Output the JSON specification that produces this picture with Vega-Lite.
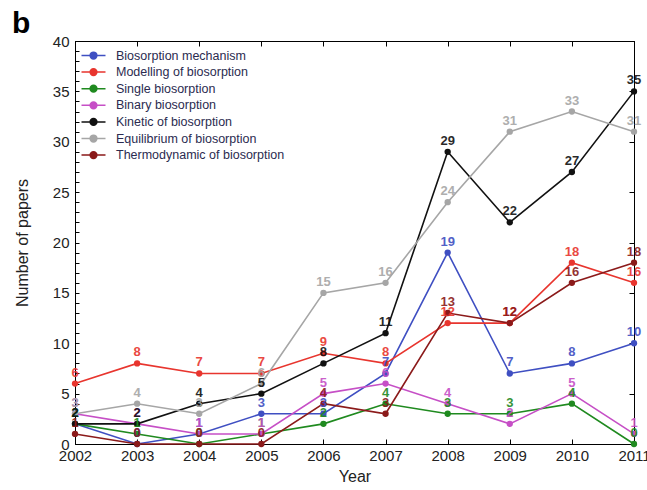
{
  "$schema": "https://vega.github.io/schema/vega-lite/v6.json",
  "width": 559,
  "height": 403,
  "autosize": {"type": "none"},
  "padding": {"left": 75, "top": 41, "right": 13, "bottom": 46},
  "background": "white",
  "config": {
    "font": "Liberation Sans",
    "view": {"stroke": "black", "strokeWidth": 1}
  },
  "title": {
    "text": "b",
    "anchor": "start",
    "frame": "group",
    "fontSize": 30,
    "fontWeight": "bold",
    "font": "Liberation Sans",
    "color": "black",
    "dx": -63,
    "dy": 13,
    "offset": 8
  },
  "data": {
    "values": [
      {"Year": 2002, "Topic": "Biosorption mechanism", "Papers": 2},
      {"Year": 2003, "Topic": "Biosorption mechanism", "Papers": 0},
      {"Year": 2004, "Topic": "Biosorption mechanism", "Papers": 1},
      {"Year": 2005, "Topic": "Biosorption mechanism", "Papers": 3},
      {"Year": 2006, "Topic": "Biosorption mechanism", "Papers": 3},
      {"Year": 2007, "Topic": "Biosorption mechanism", "Papers": 7},
      {"Year": 2008, "Topic": "Biosorption mechanism", "Papers": 19},
      {"Year": 2009, "Topic": "Biosorption mechanism", "Papers": 7},
      {"Year": 2010, "Topic": "Biosorption mechanism", "Papers": 8},
      {"Year": 2011, "Topic": "Biosorption mechanism", "Papers": 10},
      {"Year": 2002, "Topic": "Modelling of biosorption", "Papers": 6},
      {"Year": 2003, "Topic": "Modelling of biosorption", "Papers": 8},
      {"Year": 2004, "Topic": "Modelling of biosorption", "Papers": 7},
      {"Year": 2005, "Topic": "Modelling of biosorption", "Papers": 7},
      {"Year": 2006, "Topic": "Modelling of biosorption", "Papers": 9},
      {"Year": 2007, "Topic": "Modelling of biosorption", "Papers": 8},
      {"Year": 2008, "Topic": "Modelling of biosorption", "Papers": 12},
      {"Year": 2009, "Topic": "Modelling of biosorption", "Papers": 12},
      {"Year": 2010, "Topic": "Modelling of biosorption", "Papers": 18},
      {"Year": 2011, "Topic": "Modelling of biosorption", "Papers": 16},
      {"Year": 2002, "Topic": "Single biosorption", "Papers": 2},
      {"Year": 2003, "Topic": "Single biosorption", "Papers": 1},
      {"Year": 2004, "Topic": "Single biosorption", "Papers": 0},
      {"Year": 2005, "Topic": "Single biosorption", "Papers": 1},
      {"Year": 2006, "Topic": "Single biosorption", "Papers": 2},
      {"Year": 2007, "Topic": "Single biosorption", "Papers": 4},
      {"Year": 2008, "Topic": "Single biosorption", "Papers": 3},
      {"Year": 2009, "Topic": "Single biosorption", "Papers": 3},
      {"Year": 2010, "Topic": "Single biosorption", "Papers": 4},
      {"Year": 2011, "Topic": "Single biosorption", "Papers": 0},
      {"Year": 2002, "Topic": "Binary biosorption", "Papers": 3},
      {"Year": 2003, "Topic": "Binary biosorption", "Papers": 2},
      {"Year": 2004, "Topic": "Binary biosorption", "Papers": 1},
      {"Year": 2005, "Topic": "Binary biosorption", "Papers": 1},
      {"Year": 2006, "Topic": "Binary biosorption", "Papers": 5},
      {"Year": 2007, "Topic": "Binary biosorption", "Papers": 6},
      {"Year": 2008, "Topic": "Binary biosorption", "Papers": 4},
      {"Year": 2009, "Topic": "Binary biosorption", "Papers": 2},
      {"Year": 2010, "Topic": "Binary biosorption", "Papers": 5},
      {"Year": 2011, "Topic": "Binary biosorption", "Papers": 1},
      {"Year": 2002, "Topic": "Kinetic of biosorption", "Papers": 2},
      {"Year": 2003, "Topic": "Kinetic of biosorption", "Papers": 2},
      {"Year": 2004, "Topic": "Kinetic of biosorption", "Papers": 4},
      {"Year": 2005, "Topic": "Kinetic of biosorption", "Papers": 5},
      {"Year": 2006, "Topic": "Kinetic of biosorption", "Papers": 8},
      {"Year": 2007, "Topic": "Kinetic of biosorption", "Papers": 11},
      {"Year": 2008, "Topic": "Kinetic of biosorption", "Papers": 29},
      {"Year": 2009, "Topic": "Kinetic of biosorption", "Papers": 22},
      {"Year": 2010, "Topic": "Kinetic of biosorption", "Papers": 27},
      {"Year": 2011, "Topic": "Kinetic of biosorption", "Papers": 35},
      {"Year": 2002, "Topic": "Equilibrium of biosorption", "Papers": 3},
      {"Year": 2003, "Topic": "Equilibrium of biosorption", "Papers": 4},
      {"Year": 2004, "Topic": "Equilibrium of biosorption", "Papers": 3},
      {"Year": 2005, "Topic": "Equilibrium of biosorption", "Papers": 6},
      {"Year": 2006, "Topic": "Equilibrium of biosorption", "Papers": 15},
      {"Year": 2007, "Topic": "Equilibrium of biosorption", "Papers": 16},
      {"Year": 2008, "Topic": "Equilibrium of biosorption", "Papers": 24},
      {"Year": 2009, "Topic": "Equilibrium of biosorption", "Papers": 31},
      {"Year": 2010, "Topic": "Equilibrium of biosorption", "Papers": 33},
      {"Year": 2011, "Topic": "Equilibrium of biosorption", "Papers": 31},
      {"Year": 2002, "Topic": "Thermodynamic of biosorption", "Papers": 1},
      {"Year": 2003, "Topic": "Thermodynamic of biosorption", "Papers": 0},
      {"Year": 2004, "Topic": "Thermodynamic of biosorption", "Papers": 0},
      {"Year": 2005, "Topic": "Thermodynamic of biosorption", "Papers": 0},
      {"Year": 2006, "Topic": "Thermodynamic of biosorption", "Papers": 4},
      {"Year": 2007, "Topic": "Thermodynamic of biosorption", "Papers": 3},
      {"Year": 2008, "Topic": "Thermodynamic of biosorption", "Papers": 13},
      {"Year": 2009, "Topic": "Thermodynamic of biosorption", "Papers": 12},
      {"Year": 2010, "Topic": "Thermodynamic of biosorption", "Papers": 16},
      {"Year": 2011, "Topic": "Thermodynamic of biosorption", "Papers": 18}
    ]
  },
  "layer": [
    {
      "mark": {"type": "line", "strokeWidth": 1.6},
      "encoding": {
        "x": {
          "field": "Year", "type": "quantitative",
          "scale": {"domain": [2002, 2011], "nice": false, "zero": false},
          "axis": {
            "orient": "bottom",
            "values": [2002, 2003, 2004, 2005, 2006, 2007, 2008, 2009, 2010, 2011],
            "format": "d",
            "grid": false,
            "domainColor": "black",
            "tickColor": "black",
            "tickSize": -5,
            "labelPadding": 9,
            "labelFontSize": 15,
            "labelColor": "#222222",
            "labelFlush": false,
            "labelOverlap": false,
            "title": "Year",
            "titleFontSize": 16,
            "titleFontWeight": "normal",
            "titleColor": "#222222",
            "titlePadding": 5
          }
        },
        "y": {
          "field": "Papers", "type": "quantitative",
          "scale": {"domain": [0, 40], "nice": false},
          "axis": {
            "orient": "left",
            "values": [0,1,2,3,4,5,6,7,8,9,10,11,12,13,14,15,16,17,18,19,20,21,22,23,24,25,26,27,28,29,30,31,32,33,34,35,36,37,38,39,40],
            "labelExpr": "datum.value % 5 === 0 ? datum.label : ''",
            "grid": false,
            "domainColor": "black",
            "tickColor": "black",
            "tickSize": -4,
            "labelPadding": 10,
            "labelFontSize": 15,
            "labelColor": "#222222",
            "labelFlush": false,
            "labelOverlap": false,
            "title": "Number of papers",
            "titleFontSize": 16,
            "titleFontWeight": "normal",
            "titleColor": "#222222",
            "titlePadding": 22
          }
        },
        "color": {
          "field": "Topic", "type": "nominal",
          "scale": {
            "domain": ["Biosorption mechanism", "Modelling of biosorption", "Single biosorption", "Binary biosorption", "Kinetic of biosorption", "Equilibrium of biosorption", "Thermodynamic of biosorption"],
            "range": ["#3f4fc2", "#e8352e", "#1f8a1f", "#c64fc6", "#111111", "#a6a6a6", "#8b1a1a"]
          },
          "legend": {
            "orient": "none",
            "legendX": 10,
            "legendY": 6,
            "title": null,
            "symbolType": "M-1.6,0L1.6,0M-0.45,0A0.45,0.45,0,1,0,0.45,0A0.45,0.45,0,1,0,-0.45,0Z",
            "symbolSize": 225,
            "symbolStrokeWidth": 1.5,
            "labelFontSize": 12.5,
            "labelColor": "#2b2b50",
            "labelOffset": 14,
            "rowPadding": 1.6,
            "labelLimit": 300
          }
        }
      }
    },
    {
      "mark": {"type": "point", "filled": true, "size": 40, "opacity": 1},
      "encoding": {
        "x": {"field": "Year", "type": "quantitative", "axis": null},
        "y": {"field": "Papers", "type": "quantitative", "axis": null},
        "color": {"field": "Topic", "type": "nominal"}
      }
    },
    {
      "mark": {"type": "text", "dy": -11, "fontSize": 13, "fontWeight": "bold", "opacity": 0.9},
      "encoding": {
        "x": {"field": "Year", "type": "quantitative", "axis": null},
        "y": {"field": "Papers", "type": "quantitative", "axis": null},
        "text": {"field": "Papers", "type": "quantitative"},
        "color": {"field": "Topic", "type": "nominal", "legend": null}
      }
    },
    {
      "mark": {"type": "point", "opacity": 0},
      "encoding": {
        "x": {
          "field": "Year", "type": "quantitative",
          "axis": {
            "orient": "top",
            "values": [2002, 2003, 2004, 2005, 2006, 2007, 2008, 2009, 2010, 2011],
            "labels": false, "grid": false, "title": null,
            "domainColor": "black", "tickColor": "black", "tickSize": -5
          }
        },
        "y": {
          "field": "Papers", "type": "quantitative",
          "axis": {
            "orient": "right",
            "values": [0, 5, 10, 15, 20, 25, 30, 35, 40],
            "labels": false, "grid": false, "title": null,
            "domainColor": "black", "tickColor": "black", "tickSize": -5
          }
        }
      }
    }
  ],
  "resolve": {"axis": {"x": "independent", "y": "independent"}}
}
